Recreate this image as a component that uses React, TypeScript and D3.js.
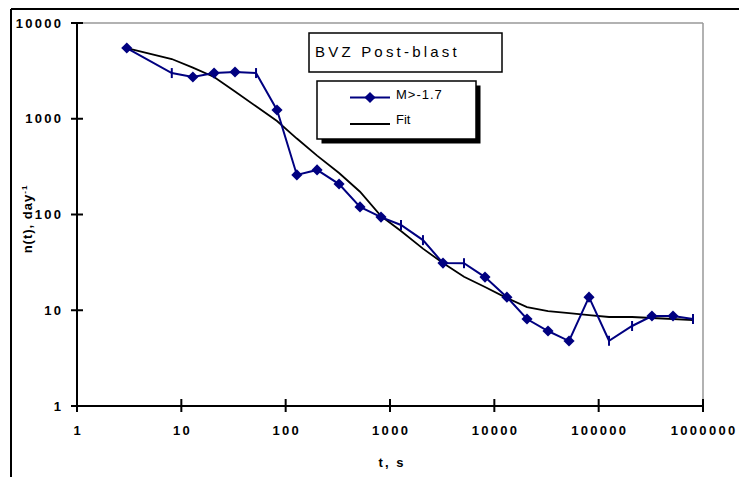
import React from "react";
import * as d3 from "d3";

// Elapsed time since the blast (s)
const times = [
  3.0, 8.1, 12.9, 20.6, 32.7, 52, 82.6, 128, 200, 325, 516, 820, 1274, 2070,
  3220, 5120, 8140, 13200, 20560, 32700, 52000, 80800, 125700, 209000, 324000,
  516000, 802000,
];
// Event rate for M > -1.7 (per day)
const rates = [
  5480, 3000, 2730, 3000, 3080, 3000, 1234, 259, 292, 208, 120, 94, 77.7, 54,
  31.1, 31, 22.2, 13.7, 8.1, 6.07, 4.77, 13.7, 4.8, 6.85, 8.7, 8.7, 8.1,
];
// Points drawn with a short vertical dash instead of a diamond
const dashPoints = [1, 5, 12, 13, 15, 22, 23, 26];
// Fitted decay curve evaluated at the same times
const fitRates = [
  5480, 4207, 3422, 2730, 1931, 1349, 948, 621, 412, 271, 173, 96.5, 67.3, 44,
  31.1, 22.4, 17.5, 13.4, 10.8, 9.8, 9.35, 8.9, 8.5, 8.5, 8.3, 8.1, 7.9,
];
const xTicks = [1, 10, 100, 1000, 10000, 100000, 1000000];
const yTicks = [1, 10, 100, 1000, 10000];

const W = 739;
const H = 477;
const plot = { left: 77, right: 703, top: 23, bottom: 406 };
const NAVY = "#000080";
const FONT = "'Liberation Sans', Arial, sans-serif";

export default function App() {
  const x = d3.scaleLog().domain([1, 1000000]).range([plot.left, plot.right]);
  const y = d3.scaleLog().domain([1, 10000]).range([plot.bottom, plot.top]);

  const line = d3
    .line<number>()
    .x((_, i) => x(times[i]))
    .y((d) => y(d));

  const diamond = d3.symbol(d3.symbolSquare, 62)();
  const tickLs = 2.3;

  return (
    <svg
      width={W}
      height={H}
      style={{ position: "absolute", left: 0, top: 0, background: "#fff" }}
      fontFamily={FONT}
    >
      <rect x={0} y={0} width={W} height={H} fill="#fff" />
      {/* outer frame */}
      <line x1={11} y1={9} x2={W} y2={9} stroke="#000" strokeWidth={2} />
      <line x1={11} y1={9} x2={11} y2={H} stroke="#000" strokeWidth={2} />

      {/* plot area border */}
      <line x1={plot.left} y1={plot.top} x2={plot.right} y2={plot.top} stroke="#999" strokeWidth={1.5} />
      <line x1={plot.right} y1={plot.top} x2={plot.right} y2={plot.bottom} stroke="#999" strokeWidth={1.5} />

      {/* axes */}
      <line x1={plot.left} y1={plot.top} x2={plot.left} y2={plot.bottom} stroke="#000" strokeWidth={2} />
      <line x1={plot.left - 6} y1={plot.bottom} x2={plot.right} y2={plot.bottom} stroke="#000" strokeWidth={2} />
      {yTicks.map((t) => (
        <g key={"y" + t}>
          <line x1={plot.left - 6} x2={plot.left + 6} y1={y(t)} y2={y(t)} stroke="#000" strokeWidth={2} />
          <text
            x={61 + tickLs}
            y={y(t) + 4.5}
            textAnchor="end"
            fontSize={13}
            fontWeight="bold"
            letterSpacing={tickLs}
          >
            {t}
          </text>
        </g>
      ))}
      {xTicks.map((t) => (
        <g key={"x" + t}>
          <line x1={x(t)} x2={x(t)} y1={plot.bottom - 7} y2={plot.bottom + 6} stroke="#000" strokeWidth={2} />
          <text
            x={x(t) + tickLs / 2}
            y={435}
            textAnchor="middle"
            fontSize={13}
            fontWeight="bold"
            letterSpacing={tickLs}
          >
            {t}
          </text>
        </g>
      ))}

      {/* axis titles */}
      <text x={391 + 1} y={467} textAnchor="middle" fontSize={13} fontWeight="bold" letterSpacing={2}>
        t, s
      </text>
      <text
        transform="translate(32,219) rotate(-90)"
        textAnchor="middle"
        fontSize={13}
        fontWeight="bold"
        letterSpacing={1}
      >
        n(t), day<tspan dy={-5} fontSize={8}>-1</tspan>
      </text>

      {/* fitted curve */}
      <path d={line(fitRates) ?? ""} fill="none" stroke="#000" strokeWidth={1.8} />

      {/* observed rates */}
      <path d={line(rates) ?? ""} fill="none" stroke={NAVY} strokeWidth={2} />
      {rates.map((r, i) =>
        dashPoints.includes(i) ? (
          <line
            key={"m" + i}
            x1={x(times[i])}
            x2={x(times[i])}
            y1={y(r) - 5}
            y2={y(r) + 5}
            stroke={NAVY}
            strokeWidth={2}
          />
        ) : (
          <path
            key={"m" + i}
            d={diamond ?? ""}
            transform={`translate(${x(times[i])},${y(r)}) rotate(45)`}
            fill={NAVY}
          />
        )
      )}

      {/* title box */}
      <rect x={309} y={33} width={193} height={39} fill="#fff" stroke="#000" strokeWidth={1.5} />
      <text x={315} y={57} fontSize={15} letterSpacing={3.2}>
        BVZ  Post-blast
      </text>

      {/* legend */}
      <rect x={321.5} y={85.5} width={159} height={58} fill="#000" />
      <rect x={317} y={81} width={159} height={58} fill="#fff" stroke="#000" strokeWidth={1.5} />
      <line x1={350} x2={390} y1={97.5} y2={97.5} stroke={NAVY} strokeWidth={2} />
      <path d={diamond ?? ""} transform="translate(370,97.5) rotate(45)" fill={NAVY} />
      <text x={396} y={99} fontSize={13} letterSpacing={1}>
        M&gt;-1.7
      </text>
      <line x1={350} x2={390} y1={124} y2={124} stroke="#000" strokeWidth={1.8} />
      <text x={396} y={124} fontSize={13}>
        Fit
      </text>
    </svg>
  );
}
